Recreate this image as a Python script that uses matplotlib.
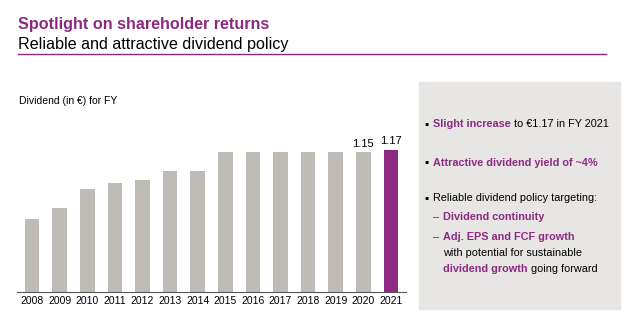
import matplotlib.pyplot as plt
from matplotlib.patches import Rectangle

plt.rcParams['font.family'] = ['Liberation Sans', 'DejaVu Sans']

years = ['2008', '2009', '2010', '2011', '2012', '2013', '2014',
         '2015', '2016', '2017', '2018', '2019', '2020', '2021']
dividends = [0.60, 0.69, 0.85, 0.90, 0.92, 1.00, 1.00,
             1.15, 1.15, 1.15, 1.15, 1.15, 1.15, 1.17]
labelled = {'2020': '1.15', '2021': '1.17'}

PURPLE = '#8C2A82'
GREY = '#BEBBB6'
BOX = '#E7E6E4'

W, H = 640, 321
fig = plt.figure(figsize=(W / 100, H / 100), dpi=100)


def fx(px):
    return px / W


def fy(py):
    return 1 - py / H


# header
fig.text(fx(18), fy(25), 'Spotlight on shareholder returns', color=PURPLE,
         fontsize=11.6, fontweight='bold', va='center', ha='left')
fig.text(fx(18), fy(44), 'Reliable and attractive dividend policy', color='black',
         fontsize=11.6, va='center', ha='left')
fig.add_artist(plt.Line2D([fx(18), fx(606)], [fy(53.5), fy(53.5)],
                          color=PURPLE, lw=1.0))

# bar chart
ax = fig.add_axes([fx(17), fy(292), fx(406) - fx(17), fy(100) - fy(292)])
x = range(len(years))
colors = [PURPLE if y == '2021' else GREY for y in years]
ax.bar(x, dividends, width=0.53, color=colors)
for i, (y, v) in enumerate(zip(years, dividends)):
    if y in labelled:
        ax.text(i, v + 0.03, labelled[y], ha='center', va='bottom', fontsize=8)
ax.set_xlim(-0.55, len(years) - 0.45)
ax.set_ylim(0, 192 / 121.5)
ax.set_xticks(list(x))
ax.set_xticklabels(years, fontsize=7.5)
ax.tick_params(axis='x', length=0, pad=3)
ax.set_yticks([])
for s in ['top', 'right', 'left']:
    ax.spines[s].set_visible(False)
ax.spines['bottom'].set_color('#555555')
ax.spines['bottom'].set_linewidth(0.8)
ax.patch.set_alpha(0)

fig.text(fx(19), fy(101), 'Dividend (in \u20ac) for FY', fontsize=7.5,
         va='center', ha='left')

# right panel
fig.add_artist(Rectangle((fx(419), fy(309)), fx(620) - fx(419), fy(82) - fy(309),
                         transform=fig.transFigure, color=BOX, zorder=0))

renderer = fig.canvas.get_renderer()
FS = 7.8


def rich_line(x0, y0, parts):
    xx = x0
    for txt, col, bold in parts:
        t = fig.text(fx(xx), fy(y0), txt, color=col, fontsize=FS,
                     fontweight='bold' if bold else 'normal',
                     va='center', ha='left')
        bb = t.get_window_extent(renderer)
        xx += bb.width


def bullet(y0):
    fig.text(fx(424), fy(y0), '\u25aa', fontsize=8.5, va='center', ha='left')


def dash(y0):
    fig.text(fx(433), fy(y0), '\u2013', color='#444444', fontsize=FS,
             va='center', ha='left')


bullet(124)
rich_line(433, 124, [('Slight increase', PURPLE, True),
                     (' to \u20ac1.17 in FY 2021', 'black', False)])
bullet(162.5)
rich_line(433, 162.5, [('Attractive dividend yield of ~4%', PURPLE, True)])
bullet(198)
rich_line(433, 198, [('Reliable dividend policy targeting:', 'black', False)])
dash(217.5)
rich_line(443, 217.5, [('Dividend continuity', PURPLE, True)])
dash(237)
rich_line(443, 237, [('Adj. EPS and FCF growth', PURPLE, True)])
rich_line(443, 253, [('with potential for sustainable', 'black', False)])
rich_line(443, 269, [('dividend growth', PURPLE, True),
                     (' going forward', 'black', False)])

fig.savefig('out.png', dpi=100)
